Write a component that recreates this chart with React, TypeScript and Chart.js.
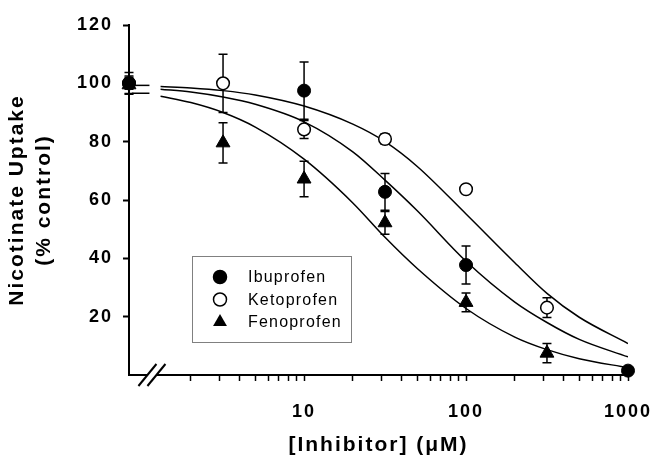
import React, { useEffect, useRef } from 'react';
import { Chart, registerables } from 'chart.js';

Chart.register(...registerables);

// ---- data ----
const seriesNames = ['Ibuprofen', 'Ketoprofen', 'Fenoprofen'];

// control (no inhibitor) is plotted at the start of the axis (0.83)
const ibuX = [0.83, 10, 31.6, 100, 1000];
const ibuY = [100, 97.5, 62.8, 37.7, 1.5];
const ibuErr = [3.7, 9.8, 6.3, 6.5, 0];

const ketoX = [0.83, 3.16, 10, 31.6, 100, 316];
const ketoY = [100, 100, 84.2, 80.9, 63.7, 23.1];
const ketoErr = [2, 10, 3.1, 1.8, 1, 3.4];

const fenoX = [0.83, 3.16, 10, 31.6, 100, 316];
const fenoY = [99.5, 79.6, 67.2, 52.2, 24.9, 7.5];
const fenoErr = [3, 6.9, 6.1, 3.9, 3.2, 3.3];

// fitted curves
const curveX = [1.3, 2, 3.16, 5, 10, 20, 31.6, 50, 100, 200, 316, 500, 1000];
const ketoCurve = [98.9, 98.4, 97.5, 96.0, 92.2, 86.0, 80.0, 71.5, 55.2, 38.5, 28.0, 19.8, 10.8];
const ibuCurve = [98.0, 97.0, 95.3, 92.8, 86.8, 76.5, 66.8, 56.3, 39.0, 25.0, 18.0, 12.2, 6.2];
const fenoCurve = [95.6, 93.4, 90.0, 85.0, 74.0, 59.0, 47.2, 36.5, 22.8, 13.0, 8.7, 5.6, 2.5];

// short "=" segments at the axis break
const breakX = [0.864, 1.11];
const breakUpperY = [99.3, 99.3];
const breakLowerY = [96.6, 96.6];

const xMin = 0.83;
const xMax = 1000;
const xMajorTicks = [10, 100, 1000];
const xMinorTicks = [2, 3, 4, 5, 6, 7, 8, 9, 20, 30, 40, 50, 60, 70, 80, 90, 200, 300, 400, 500, 600, 700, 800, 900];
const yMin = 0;
const yMax = 120;
const yTicks = [20, 40, 60, 80, 100, 120];
const xBreakValue = 1.15;

const toPts = (xs: number[], ys: number[]) => xs.map((x, i) => ({ x, y: ys[i] }));

const FONT = '"Liberation Sans", Arial, Helvetica, sans-serif';

const errorSets = [
  { xs: ibuX, ys: ibuY, err: ibuErr },
  { xs: ketoX, ys: ketoY, err: ketoErr },
  { xs: fenoX, ys: fenoY, err: fenoErr },
];

const spacingPlugin = {
  id: 'spacing',
  beforeDraw(chart: any) {
    chart.ctx.letterSpacing = '2px';
  },
};

const errorBarPlugin = {
  id: 'errorBars',
  beforeDatasetsDraw(chart: any) {
    const { ctx } = chart;
    const xs = chart.scales.x;
    const ys = chart.scales.y;
    ctx.save();
    ctx.strokeStyle = '#000';
    ctx.lineWidth = 1.5;
    errorSets.forEach((s) => {
      s.xs.forEach((xv, i) => {
        const e = s.err[i];
        if (!e) return;
        const px = xs.getPixelForValue(xv);
        const top = ys.getPixelForValue(s.ys[i] + e);
        const bot = ys.getPixelForValue(s.ys[i] - e);
        ctx.beginPath();
        ctx.moveTo(px, top);
        ctx.lineTo(px, bot);
        ctx.moveTo(px - 4.5, top);
        ctx.lineTo(px + 4.5, top);
        ctx.moveTo(px - 4.5, bot);
        ctx.lineTo(px + 4.5, bot);
        ctx.stroke();
      });
    });
    ctx.restore();
  },
};

const breakPlugin = {
  id: 'axisBreak',
  afterDraw(chart: any) {
    const { ctx, chartArea } = chart;
    const cx = chart.scales.x.getPixelForValue(xBreakValue);
    const cy = chartArea.bottom;
    ctx.save();
    ctx.fillStyle = '#fff';
    ctx.beginPath();
    ctx.moveTo(cx - 6.5, cy + 2.5);
    ctx.lineTo(cx - 2.5, cy - 2.5);
    ctx.lineTo(cx + 6.5, cy - 2.5);
    ctx.lineTo(cx + 2.5, cy + 2.5);
    ctx.closePath();
    ctx.fill();
    ctx.strokeStyle = '#000';
    ctx.lineWidth = 2;
    [-4.5, 4.5].forEach((d) => {
      ctx.beginPath();
      ctx.moveTo(cx + d - 9, cy + 11);
      ctx.lineTo(cx + d + 9, cy - 11);
      ctx.stroke();
    });
    ctx.restore();
  },
};

const LEGEND_DX = 63;
const LEGEND_DY = 231;
const LEGEND_W = 159;
const LEGEND_H = 86;

function drawMarker(ctx: CanvasRenderingContext2D, kind: number, x: number, y: number) {
  ctx.beginPath();
  if (kind === 2) {
    const r = 8;
    ctx.moveTo(x, y - r);
    ctx.lineTo(x + 0.866 * r, y + 0.5 * r);
    ctx.lineTo(x - 0.866 * r, y + 0.5 * r);
    ctx.closePath();
    ctx.fillStyle = '#000';
    ctx.fill();
  } else {
    ctx.arc(x, y, 6.5, 0, Math.PI * 2);
    ctx.fillStyle = kind === 0 ? '#000' : '#fff';
    ctx.fill();
    ctx.strokeStyle = '#000';
    ctx.lineWidth = 1.5;
    ctx.stroke();
  }
}

const legendPlugin = {
  id: 'boxLegend',
  afterDraw(chart: any) {
    const { ctx, chartArea } = chart;
    const left = chartArea.left + LEGEND_DX;
    const top = chartArea.top + LEGEND_DY;
    ctx.save();
    ctx.letterSpacing = '1.2px';
    ctx.fillStyle = '#fff';
    ctx.fillRect(left, top, LEGEND_W, LEGEND_H);
    ctx.strokeStyle = '#808080';
    ctx.lineWidth = 1;
    ctx.strokeRect(left + 0.5, top + 0.5, LEGEND_W, LEGEND_H);
    seriesNames.forEach((name, i) => {
      const y = top + 21 + i * 22.5;
      drawMarker(ctx, i, left + 28, y);
      ctx.fillStyle = '#000';
      ctx.font = `16px ${FONT}`;
      ctx.textAlign = 'left';
      ctx.textBaseline = 'middle';
      ctx.fillText(name, left + 56, y + 1);
    });
    ctx.restore();
    ctx.letterSpacing = '0px';
  },
};

export default function App() {
  const ref = useRef<HTMLCanvasElement>(null);
  useEffect(() => {
    if (!ref.current) return;
    const c2d = ref.current.getContext('2d') as any;
    if (c2d) c2d.letterSpacing = '0px';
    const lineBase = {
      showLine: true,
      pointRadius: 0,
      borderColor: '#000',
      borderWidth: 1.5,
      fill: false,
      order: 5,
    };
    const chart = new Chart(ref.current, {
      type: 'scatter',
      data: {
        datasets: [
          {
            label: seriesNames[0],
            data: toPts(ibuX, ibuY),
            pointStyle: 'circle',
            pointRadius: 6.5,
            backgroundColor: '#000',
            borderColor: '#000',
            borderWidth: 1,
            clip: false,
            order: 0,
          },
          {
            label: seriesNames[1],
            data: toPts(ketoX, ketoY),
            pointStyle: 'circle',
            pointRadius: 6.3,
            backgroundColor: '#fff',
            borderColor: '#000',
            borderWidth: 1.5,
            clip: false,
            order: 1,
          },
          {
            label: seriesNames[2],
            data: toPts(fenoX, fenoY),
            pointStyle: 'triangle',
            pointRadius: 8,
            backgroundColor: '#000',
            borderColor: '#000',
            borderWidth: 1,
            clip: false,
            order: 2,
          },
          { label: 'Ketoprofen fit', data: toPts(curveX, ketoCurve), cubicInterpolationMode: 'monotone', ...lineBase },
          { label: 'Ibuprofen fit', data: toPts(curveX, ibuCurve), cubicInterpolationMode: 'monotone', ...lineBase },
          { label: 'Fenoprofen fit', data: toPts(curveX, fenoCurve), cubicInterpolationMode: 'monotone', ...lineBase },
          { label: 'break a', data: toPts(breakX, breakUpperY), ...lineBase, clip: false },
          { label: 'break b', data: toPts(breakX, breakLowerY), ...lineBase, clip: false },
        ] as any,
      },
      options: {
        animation: false,
        responsive: false,
        devicePixelRatio: 1,
        events: [],
        layout: { padding: { left: 0, right: 27, top: 25, bottom: 0 } },
        plugins: {
          legend: { display: false },
          tooltip: { enabled: false },
        },
        scales: {
          x: {
            type: 'logarithmic',
            position: 'bottom',
            min: xMin,
            max: xMax,
            bounds: 'data',
            grid: { display: true, drawOnChartArea: false, drawTicks: true, tickLength: 6, tickWidth: 1.5, tickColor: '#000' },
            border: { display: true, color: '#000', width: 2 },
            ticks: {
              autoSkip: false,
              maxRotation: 0,
              minRotation: 0,
              padding: 20,
              color: '#000',
              font: { family: FONT, size: 18, weight: 'bold' },
              callback: (v: any) => (xMajorTicks.includes(Number(v)) ? String(v) : ''),
            },
            title: {
              display: true,
              text: '[Inhibitor] (\u03BCM)',
              color: '#000',
              font: { family: FONT, size: 21, weight: 'bold', lineHeight: 1.2 },
              padding: { top: 0, bottom: 0 },
            },
            afterBuildTicks: (scale: any) => {
              scale.ticks = [...xMinorTicks, ...xMajorTicks]
                .sort((a, b) => a - b)
                .map((v) => ({ value: v, major: xMajorTicks.includes(v) }));
            },
            afterFit: (scale: any) => {
              scale.height = 83;
              scale.paddingLeft = 0;
              scale.paddingRight = 0;
            },
          },
          y: {
            type: 'linear',
            position: 'left',
            min: yMin,
            max: yMax,
            grid: { display: true, drawOnChartArea: false, drawTicks: true, tickLength: 6, tickWidth: 2, tickColor: '#000' },
            border: { display: true, color: '#000', width: 2 },
            ticks: {
              padding: 10,
              color: '#000',
              font: { family: FONT, size: 18, weight: 'bold' },
            },
            title: {
              display: true,
              text: ['Nicotinate Uptake', '(% control)'],
              color: '#000',
              font: { family: FONT, size: 21, weight: 'bold', lineHeight: '27px' },
              padding: { top: 4, bottom: 0 },
            },
            afterBuildTicks: (scale: any) => {
              scale.ticks = yTicks.map((v) => ({ value: v }));
            },
            afterFit: (scale: any) => {
              scale.width = 129;
              scale.paddingTop = 0;
              scale.paddingBottom = 0;
            },
          },
        },
      } as any,
      plugins: [spacingPlugin, errorBarPlugin, breakPlugin, legendPlugin],
    });
    return () => chart.destroy();
  }, []);
  return (
    <div style={{ position: 'fixed', left: 0, top: 0, width: 655, height: 458, background: '#fff' }}>
      <canvas ref={ref} width={655} height={458} style={{ display: 'block', width: 655, height: 458 }} />
    </div>
  );
}
